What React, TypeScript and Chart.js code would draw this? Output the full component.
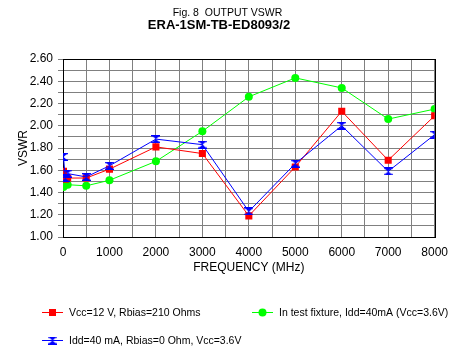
import React, { useEffect, useRef } from 'react';
import { Chart, registerables } from 'chart.js';

Chart.register(...registerables);

const FONT = '"Liberation Sans", Arial, sans-serif';

const frequencies = [10, 50, 100, 500, 1000, 2000, 3000, 4000, 5000, 6000, 7000, 8000];
const vswrVcc12 = [1.59, 1.52, 1.53, 1.53, 1.61, 1.81, 1.75, 1.19, 1.63, 2.13, 1.69, 2.09];
const vswrFixture = [1.45, 1.47, 1.47, 1.46, 1.51, 1.68, 1.95, 2.26, 2.43, 2.34, 2.06, 2.15];
const vswrIdd40 = [1.72, 1.53, 1.57, 1.54, 1.64, 1.88, 1.83, 1.23, 1.66, 2.0, 1.59, 1.92];

const seriesLabels = [
  'Vcc=12 V, Rbias=210 Ohms',
  'In test fixture, Idd=40mA (Vcc=3.6V)',
  'Idd=40 mA, Rbias=0 Ohm, Vcc=3.6V',
];
const seriesColors = ['#ff0000', '#00ff00', '#0000ff'];

const titleLine1 = 'Fig. 8  OUTPUT VSWR';
const titleLine2 = 'ERA-1SM-TB-ED8093/2';
const xAxisTitle = 'FREQUENCY (MHz)';
const yAxisTitle = 'VSWR';

function makeHourglass(color: string): HTMLCanvasElement {
  const c = document.createElement('canvas');
  c.width = 9;
  c.height = 8;
  const g = c.getContext('2d')!;
  g.fillStyle = color;
  g.fillRect(0, 0, 9, 1.3);
  g.fillRect(0, 6.7, 9, 1.3);
  g.beginPath();
  g.moveTo(1, 1);
  g.lineTo(8, 1);
  g.lineTo(4.5, 4);
  g.closePath();
  g.fill();
  g.beginPath();
  g.moveTo(1, 7);
  g.lineTo(8, 7);
  g.lineTo(4.5, 4);
  g.closePath();
  g.fill();
  return c;
}

export default function App() {
  const ref = useRef<HTMLCanvasElement | null>(null);

  useEffect(() => {
    document.body.style.margin = '0';
    const canvas = ref.current!;
    const hourglass = makeHourglass(seriesColors[2]);

    const toPts = (ys: number[]) => frequencies.map((f, i) => ({ x: f, y: ys[i] }));

    const headerPlugin = {
      id: 'header',
      afterDraw(chart: any) {
        const ctx = chart.ctx;
        ctx.save();
        ctx.fillStyle = '#000';
        ctx.textAlign = 'center';
        ctx.textBaseline = 'middle';
        ctx.font = `10.5px ${FONT}`;
        ctx.fillText(titleLine1, 227.5, 13);
        ctx.font = `bold 13px ${FONT}`;
        ctx.fillText(titleLine2, 219, 25);
        ctx.restore();
      },
    };

    const boxPlugin = {
      id: 'box',
      beforeDatasetsDraw(chart: any) {
        const { ctx, chartArea } = chart;
        ctx.save();
        ctx.strokeStyle = '#000';
        ctx.lineWidth = 1;
        ctx.strokeRect(
          Math.round(chartArea.left) + 0.5,
          Math.round(chartArea.top) + 0.5,
          Math.round(chartArea.right - chartArea.left),
          Math.round(chartArea.bottom - chartArea.top)
        );
        ctx.restore();
      },
    };

    const legendPlugin = {
      id: 'customLegend',
      afterDraw(chart: any) {
        const ctx = chart.ctx;
        const slots = [
          { x: 42, y: 312 },
          { x: 252, y: 312 },
          { x: 42, y: 340 },
        ];
        chart.data.datasets.forEach((ds: any, i: number) => {
          const { x, y } = slots[i];
          const cx = x + 10.5;
          ctx.save();
          ctx.strokeStyle = ds.borderColor;
          ctx.fillStyle = ds.borderColor;
          ctx.lineWidth = 1;
          ctx.beginPath();
          ctx.moveTo(x, y + 0.5);
          ctx.lineTo(x + 21, y + 0.5);
          ctx.stroke();
          if (ds.pointStyle === 'rect') {
            ctx.fillRect(cx - 3.5, y - 3, 7, 7);
          } else if (ds.pointStyle === 'circle') {
            ctx.beginPath();
            ctx.arc(cx, y + 0.5, 4, 0, Math.PI * 2);
            ctx.fill();
          } else {
            ctx.drawImage(ds.pointStyle, cx - 4.5, y - 3.5);
          }
          ctx.fillStyle = '#000';
          ctx.font = `10.5px ${FONT}`;
          ctx.textAlign = 'left';
          ctx.textBaseline = 'middle';
          ctx.fillText(ds.label, x + 27, y + 1);
          ctx.restore();
        });
      },
    };

    const chart = new Chart(canvas, {
      type: 'line',
      data: {
        datasets: [
          {
            label: seriesLabels[0],
            data: toPts(vswrVcc12),
            borderColor: seriesColors[0],
            backgroundColor: seriesColors[0],
            borderWidth: 1,
            pointStyle: 'rect',
            pointRadius: 5,
            pointBorderWidth: 0,
            order: 2,
          },
          {
            label: seriesLabels[1],
            data: toPts(vswrFixture),
            borderColor: seriesColors[1],
            backgroundColor: seriesColors[1],
            borderWidth: 1,
            pointStyle: 'circle',
            pointRadius: 4,
            pointBorderWidth: 0,
            order: 3,
          },
          {
            label: seriesLabels[2],
            data: toPts(vswrIdd40),
            borderColor: seriesColors[2],
            backgroundColor: seriesColors[2],
            borderWidth: 1,
            pointStyle: hourglass as any,
            pointRadius: 5,
            order: 1,
          },
        ],
      },
      options: {
        animation: false,
        responsive: false,
        devicePixelRatio: 1,
        layout: { padding: { top: 59, left: 0, right: 20, bottom: 77 } },
        plugins: {
          legend: { display: false },
          title: { display: false },
          tooltip: { enabled: false },
        },
        scales: {
          x: {
            type: 'linear',
            min: 0,
            max: 8000,
            afterFit: (s: any) => {
              s.height = 40;
            },
            grid: { color: '#808080', drawTicks: false, lineWidth: 1 },
            border: { color: '#000' },
            ticks: {
              stepSize: 500,
              autoSkip: false,
              maxRotation: 0,
              padding: 8,
              color: '#000',
              font: { family: FONT, size: 12 },
              callback: (v: any) => (Number(v) % 1000 === 0 ? String(v) : ''),
            },
            title: {
              display: true,
              text: xAxisTitle,
              color: '#000',
              font: { family: FONT, size: 12 },
              padding: { top: 0, bottom: 2 },
            },
          },
          y: {
            type: 'linear',
            min: 1,
            max: 2.6,
            afterFit: (s: any) => {
              s.width = 63;
            },
            grid: { color: '#808080', tickColor: '#808080', tickLength: 5, lineWidth: 1 },
            border: { color: '#000' },
            ticks: {
              stepSize: 0.1,
              autoSkip: false,
              padding: 5,
              color: '#000',
              font: { family: FONT, size: 12 },
              callback: (v: any) => {
                const n = Math.round(Number(v) * 10);
                return n % 2 === 0 ? (n / 10).toFixed(2) : '';
              },
            },
            title: {
              display: true,
              text: yAxisTitle,
              color: '#000',
              font: { family: FONT, size: 12 },
              padding: { top: 16, bottom: 0 },
            },
          },
        },
      },
      plugins: [headerPlugin, boxPlugin, legendPlugin],
    });

    return () => chart.destroy();
  }, []);

  return <canvas ref={ref} width={456} height={354} style={{ display: 'block' }} />;
}
